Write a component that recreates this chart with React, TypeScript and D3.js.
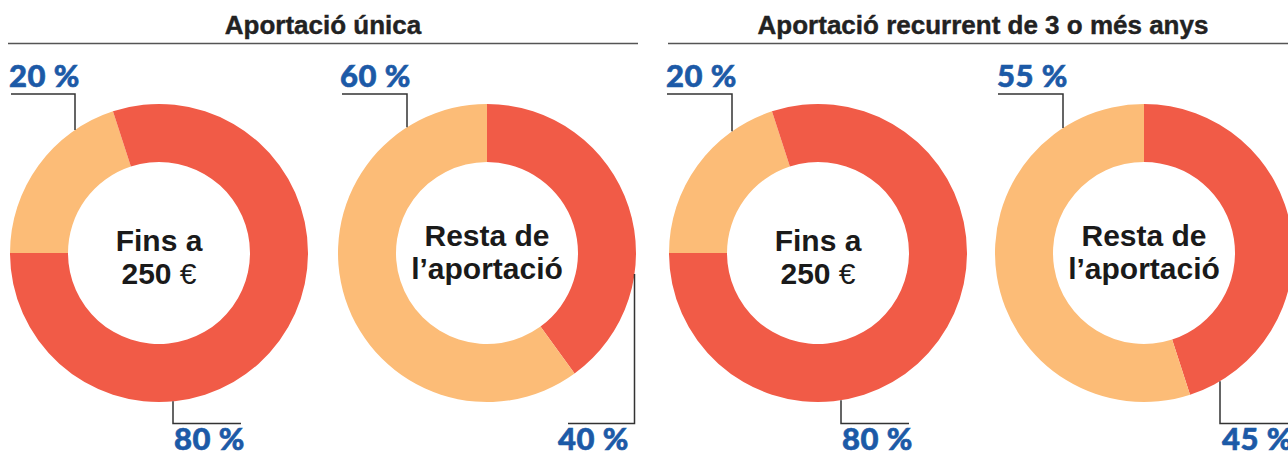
import React from 'react';
import * as d3 from 'd3';

// values (percent)
const panelTitles = ['Aportació única', 'Aportació recurrent de 3 o més anys'];
const centreLines = [
  ['Fins a', '250 €'],
  ['Resta de', 'l’aportació'],
  ['Fins a', '250 €'],
  ['Resta de', 'l’aportació'],
];
const deduction = [80, 40, 80, 45]; // red part
const remainder = [20, 60, 20, 55]; // orange part

// layout
const W = 1288;
const H = 454;
const CY = 253;
const R_OUT = 149;
const R_IN = 91;
const RED = '#f15b47';
const ORANGE = '#fcbc77';
const BLUE = '#1c5aa7';
const SANS = "'Liberation Sans', Arial, sans-serif";
const LABEL_FONT = "Lato, 'Open Sans', sans-serif";

const donuts = [
  { cx: 159, start: -90, redFirst: false, textY: [251, 284], top: { dx: -84, from: 11, textX: 9 }, bottom: { dx: 14, to: 241, textX: 174, anchor: 'start' } },
  { cx: 487, start: 0, redFirst: true, textY: [246, 279], top: { dx: -80, from: 342, textX: 340 }, bottom: { dx: 147.5, to: 568, textX: 629, anchor: 'end' } },
  { cx: 818, start: -90, redFirst: false, textY: [251, 284], top: { dx: -86, from: 667, textX: 666 }, bottom: { dx: 23, to: 909, textX: 842, anchor: 'start' } },
  { cx: 1144, start: 0, redFirst: true, textY: [246, 279], top: { dx: -81, from: 998, textX: 997 }, bottom: { dx: 76, to: 1300, textX: 1222, anchor: 'start' } },
];

const panels = [
  { x0: 8, x1: 638 },
  { x0: 668, x1: 1298 },
];

const TOP_LINE_Y = 94;
const BOTTOM_LINE_Y = 423.5;

function CentreLine({ text, y }: { text: string; y: number }) {
  // the euro sign is set lighter than the digits in the reference
  const euro = text.endsWith('€');
  return (
    <text x={0} y={y} textAnchor="middle" fontFamily={SANS} fontWeight={700} fontSize={30} fill="#1a1a1a">
      {euro ? text.slice(0, -1) : text}
      {euro && <tspan fontWeight={400}>€</tspan>}
    </text>
  );
}

export default function App() {
  const arc = d3.arc<d3.PieArcDatum<{ key: string; value: number }>>()
    .innerRadius(R_IN)
    .outerRadius(R_OUT);

  const edge = (dx: number) => Math.sqrt(Math.max(0, R_OUT * R_OUT - dx * dx));

  return (
    <svg width={W} height={H} style={{ position: 'absolute', left: 0, top: 0, background: '#fff' }}>
      {panelTitles.map((title, i) => (
        <g key={title}>
          <text
            x={(panels[i].x0 + panels[i].x1) / 2}
            y={34}
            textAnchor="middle"
            fontFamily={SANS}
            fontWeight={700}
            fontSize={26}
            fill="#222"
            stroke="#222"
            strokeWidth={0.4}
          >
            {title}
          </text>
          <line x1={panels[i].x0} x2={panels[i].x1} y1={43.5} y2={43.5} stroke="#555" strokeWidth={1.5} />
        </g>
      ))}

      {donuts.map((d, i) => {
        const parts = [
          { key: 'deduction', value: deduction[i] },
          { key: 'remainder', value: remainder[i] },
        ];
        const ordered = d.redFirst ? parts : [...parts].reverse();
        const start = (d.start * Math.PI) / 180;
        const slices = d3.pie<{ key: string; value: number }>()
          .sort(null)
          .value((p) => p.value)
          .startAngle(start)
          .endAngle(start + 2 * Math.PI)(ordered);

        const topX = d.cx + d.top.dx;
        const botX = d.cx + d.bottom.dx;

        return (
          <g key={i}>
            <g transform={`translate(${d.cx},${CY})`}>
              {slices.map((s) => (
                <path key={s.data.key} d={arc(s) ?? ''} fill={s.data.key === 'deduction' ? RED : ORANGE} />
              ))}
              {centreLines[i].map((line, j) => (
                <CentreLine key={j} text={line} y={d.textY[j] - CY} />
              ))}
            </g>

            {/* top label: remainder */}
            <polyline
              points={`${d.top.from},${TOP_LINE_Y} ${topX},${TOP_LINE_Y} ${topX},${CY - edge(d.top.dx)}`}
              fill="none"
              stroke="#333"
              strokeWidth={1.5}
            />
            <text
              x={d.top.textX}
              y={87}
              fontFamily={LABEL_FONT}
              fontWeight={900}
              fontSize={31}
              letterSpacing={0.5}
              fill={BLUE}
              stroke={BLUE}
              strokeWidth={0.6}
            >
              {`${remainder[i]} %`}
            </text>

            {/* bottom label: deduction */}
            <polyline
              points={`${botX},${CY + edge(d.bottom.dx)} ${botX},${BOTTOM_LINE_Y} ${d.bottom.to},${BOTTOM_LINE_Y}`}
              fill="none"
              stroke="#333"
              strokeWidth={1.5}
            />
            <text
              x={d.bottom.textX}
              y={450}
              textAnchor={d.bottom.anchor as 'start' | 'end'}
              fontFamily={LABEL_FONT}
              fontWeight={900}
              fontSize={31}
              letterSpacing={0.5}
              fill={BLUE}
              stroke={BLUE}
              strokeWidth={0.6}
            >
              {`${deduction[i]} %`}
            </text>
          </g>
        );
      })}
    </svg>
  );
}
